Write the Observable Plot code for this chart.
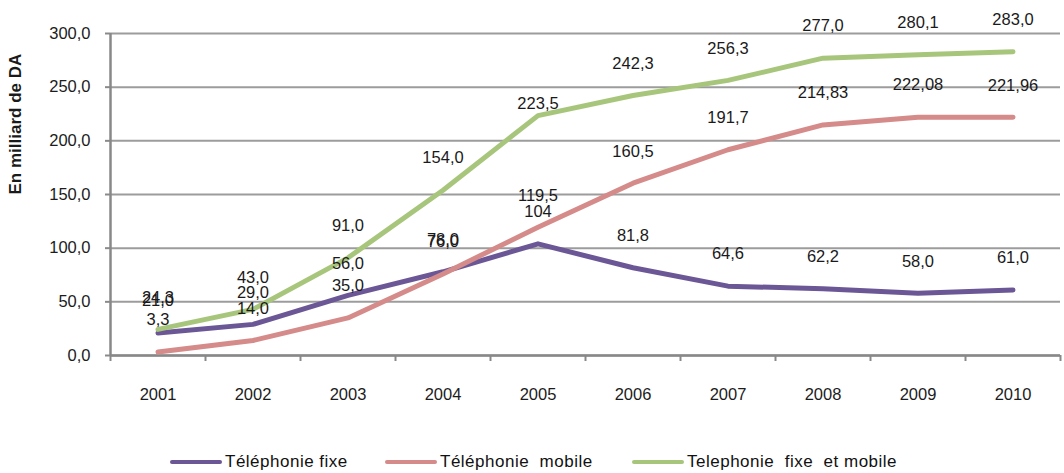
<!DOCTYPE html>
<html><head><meta charset="utf-8">
<script src="https://cdn.jsdelivr.net/npm/d3@7"></script>
<script src="https://cdn.jsdelivr.net/npm/@observablehq/plot@0.6"></script>
<style>
body{margin:0;background:#fff;}
#chart{position:relative;width:1064px;height:473px;overflow:hidden;}
#legend{position:absolute;left:0;top:450px;width:1064px;height:24px;font-family:"Liberation Sans",Arial,sans-serif;font-size:17px;letter-spacing:0.5px;color:#111;}
.item{position:absolute;top:0;display:flex;align-items:center;height:24px;white-space:pre;}
.sw{width:52px;height:4px;margin-right:3px;border-radius:2px;}
</style></head><body><div id="chart"></div>
<script>
const years = [2001, 2002, 2003, 2004, 2005, 2006, 2007, 2008, 2009, 2010];
const fixe = [21.0, 29.0, 56.0, 78.0, 104.0, 81.8, 64.6, 62.2, 58.0, 61.0];
const mobile = [3.3, 14.0, 35.0, 76.0, 119.5, 160.5, 191.7, 214.83, 222.08, 221.96];
const total = [24.3, 43.0, 91.0, 154.0, 223.5, 242.3, 256.3, 277.0, 280.1, 283.0];
const fixeLabels = ["21,0", "29,0", "56,0", "78,0", "104", "81,8", "64,6", "62,2", "58,0", "61,0"];
const mobileLabels = ["3,3", "14,0", "35,0", "76,0", "119,5", "160,5", "191,7", "214,83", "222,08", "221,96"];
const totalLabels = ["24,3", "43,0", "91,0", "154,0", "223,5", "242,3", "256,3", "277,0", "280,1", "283,0"];
const seriesNames = ["Téléphonie fixe", "Téléphonie  mobile", "Telephonie  fixe  et mobile"];
const seriesColors = ["#6B5796", "#D48B89", "#A7C67C"];
const yTicks = [0, 50, 100, 150, 200, 250, 300];
const yTitle = "En milliard de DA";

const allVals = [fixe, mobile, total];
const allLabels = [fixeLabels, mobileLabels, totalLabels];
const rows = [];
allVals.forEach((vals, s) => vals.forEach((v, i) => rows.push({
  series: seriesNames[s], s, year: years[i], value: v, label: allLabels[s][i]
})));
const bounds = [years[0] - 0.5, ...years.map(y => y + 0.5)];
const fmt = d => d.toFixed(1).replace(".", ",");
// the one label that Excel placed closer to its point
const isClose = d => d.s === 2 && d.year === 2005;

const plot = Plot.plot({
  width: 1064, height: 440,
  marginLeft: 110, marginRight: 4, marginTop: 33, marginBottom: 85,
  style: {fontFamily: "'Liberation Sans', Arial, sans-serif", fontSize: "16.5px", color: "#1c1c1c", background: "#fff"},
  x: {domain: [bounds[0], bounds[bounds.length - 1]], axis: null},
  y: {domain: [0, 300], axis: null},
  color: {domain: seriesNames, range: seriesColors},
  marks: [
    Plot.gridY(yTicks, {stroke: "#9c9c9c", strokeOpacity: 1, strokeWidth: 2}),
    Plot.axisY(yTicks, {tickSize: 5, tickPadding: 15, tickFormat: fmt, stroke: "#8a8a8a", strokeWidth: 2, label: null}),
    Plot.axisX(bounds, {tickSize: 6, tickFormat: () => "", stroke: "#888", strokeWidth: 2, label: null}),
    Plot.axisX(years, {tickSize: 0, tickPadding: 33, tickFormat: d => String(d), label: null}),
    Plot.ruleY([0], {stroke: "#888", strokeWidth: 2.5}),
    Plot.ruleX([bounds[0]], {y1: 0, y2: 300, stroke: "#888", strokeWidth: 2.5}),
    Plot.line(rows, {x: "year", y: "value", z: "series", stroke: "series", strokeWidth: 5, strokeLinecap: "round", strokeLinejoin: "round"}),
    Plot.text(rows, {filter: d => !isClose(d), x: "year", y: "value", text: "label", dy: -32, fill: "#1a1a1a"}),
    Plot.text(rows, {filter: isClose, x: "year", y: "value", text: "label", dy: -12, fill: "#1a1a1a"}),
    Plot.text([yTitle], {frameAnchor: "left", rotate: -90, dx: -95, fontWeight: "bold", fontSize: 17, letterSpacing: 1, fill: "#1a1a1a"})
  ]
});
const chart = document.getElementById("chart");
chart.appendChild(plot);

const legend = document.createElement("div");
legend.id = "legend";
const lefts = [170, 385, 632];
seriesNames.forEach((n, i) => {
  const it = document.createElement("div");
  it.className = "item";
  it.style.left = lefts[i] + "px";
  const sw = document.createElement("span");
  sw.className = "sw";
  sw.style.background = seriesColors[i];
  const t = document.createElement("span");
  t.textContent = n;
  it.appendChild(sw); it.appendChild(t);
  legend.appendChild(it);
});
chart.appendChild(legend);
</script>
</body></html>
